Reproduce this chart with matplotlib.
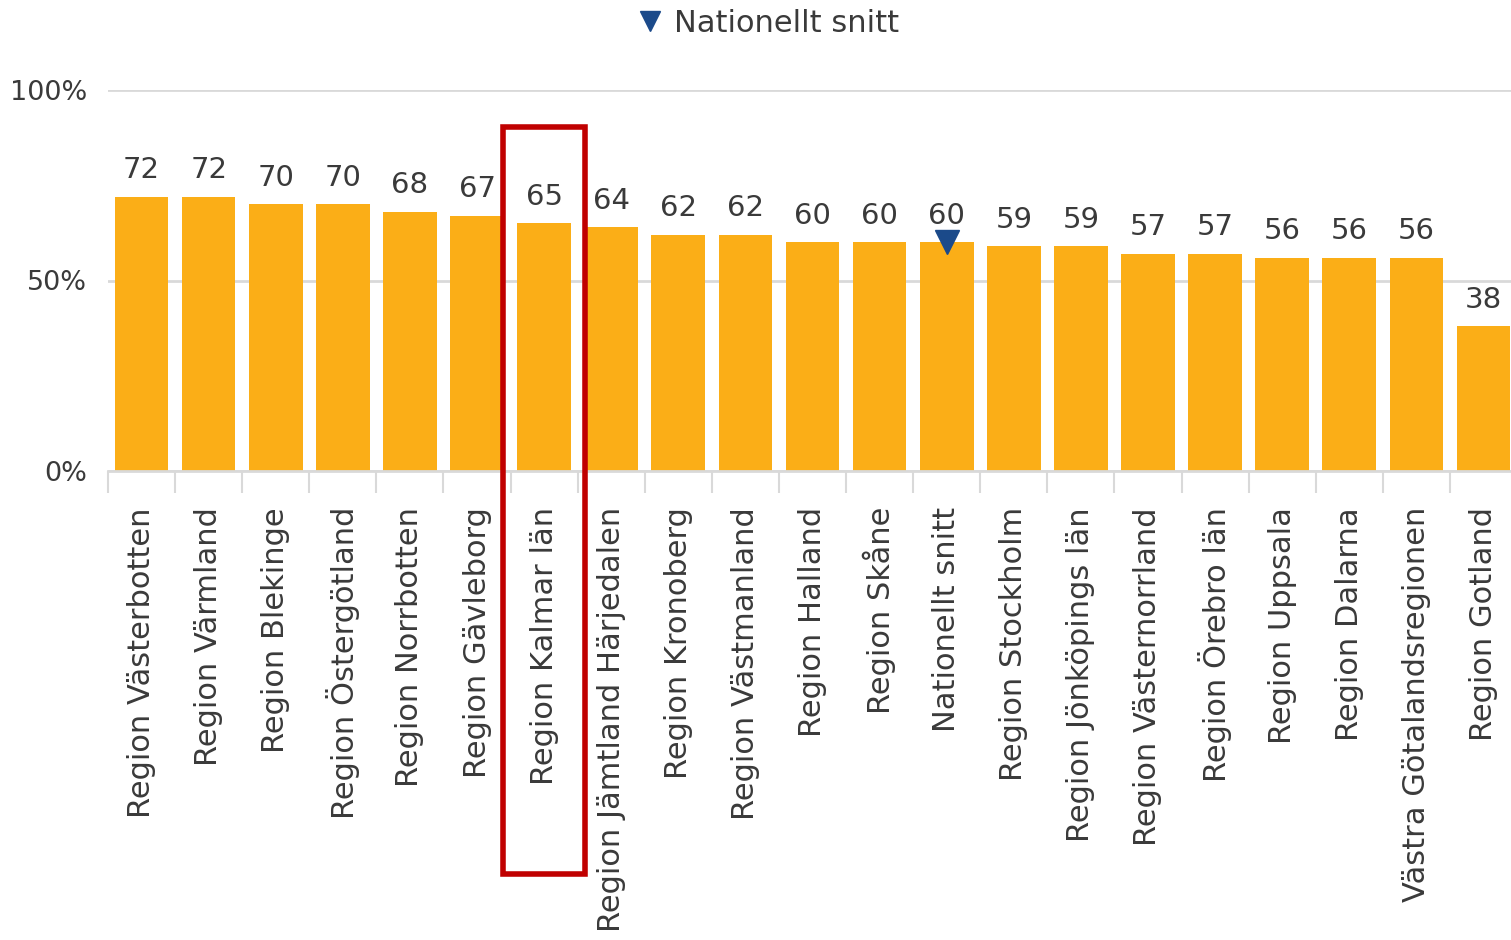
import matplotlib
matplotlib.use("Agg")
import matplotlib.pyplot as plt
from matplotlib.patches import Rectangle
from matplotlib.lines import Line2D

categories = ["Region Västerbotten", "Region Värmland", "Region Blekinge", "Region Östergötland",
              "Region Norrbotten", "Region Gävleborg", "Region Kalmar län", "Region Jämtland Härjedalen",
              "Region Kronoberg", "Region Västmanland", "Region Halland", "Region Skåne",
              "Nationellt snitt", "Region Stockholm", "Region Jönköpings län", "Region Västernorrland",
              "Region Örebro län", "Region Uppsala", "Region Dalarna", "Västra Götalandsregionen",
              "Region Gotland"]
values = [72, 72, 70, 70, 68, 67, 65, 64, 62, 62, 60, 60, 60, 59, 59, 57, 57, 56, 56, 56, 38]
national_label = "Nationellt snitt"
highlight = "Region Kalmar län"
yticks = [0, 50, 100]
ytick_labels = ["0%", "50%", "100%"]

BAR = "#FBAE17"
TXT = "#3a3a3a"
GRID = "#d9d9d9"
BLUE = "#1B4A8A"

plt.rcParams['font.family'] = ['DejaVu Sans']
fig = plt.figure(figsize=(15.11, 9.40), dpi=100)
ax = fig.add_axes([108/1511, (940-471)/940, 1409/1511, 381/940])

x = list(range(len(categories)))
ax.bar(x, values, width=0.8, color=BAR, zorder=2)
ax.set_xlim(-0.5, len(categories) - 0.5)
ax.set_ylim(0, 100)

for xi, v in zip(x, values):
    ax.annotate(str(v), (xi, v), xytext=(0, 9), textcoords="offset points",
                ha="center", va="bottom", fontsize=21, color=TXT, zorder=4)

ni = categories.index(national_label)
ax.plot([ni], [values[ni]], marker="v", markersize=17, color=BLUE, zorder=5,
        linestyle="none", clip_on=False)

ax.set_yticks(yticks)
ax.set_yticklabels(ytick_labels, fontsize=19.5, color=TXT)
ax.tick_params(axis="y", length=0, pad=15)
ax.yaxis.grid(True, color=GRID, linewidth=2, zorder=0)

ax.set_xticks(x)
ax.set_xticklabels(categories, rotation=90, fontsize=22, color=TXT, va="top", ha="center")
ax.tick_params(axis="x", which="major", length=0, pad=26)
ax.set_xticks([i - 0.5 for i in range(len(categories) + 1)], minor=True)
ax.tick_params(axis="x", which="minor", length=16, width=1.5, color=GRID)

for s in ["top", "right", "left"]:
    ax.spines[s].set_visible(False)
ax.spines["bottom"].set_color(GRID)
ax.spines["bottom"].set_linewidth(2)

hi = categories.index(highlight)
rect = Rectangle((hi - 0.613, -105.8), 1.226, 196.1, fill=False, edgecolor="#C00000",
                 linewidth=4, clip_on=False, zorder=6)
ax.add_patch(rect)

handle = Line2D([], [], marker="v", color=BLUE, linestyle="none", markersize=14)
fig.legend([handle], [national_label], loc="center", bbox_to_anchor=(767/1511, 1 - 23/940),
           frameon=False, fontsize=22, labelcolor=TXT, handletextpad=0.3, handlelength=1.0)

fig.savefig("out.png", dpi=100)
